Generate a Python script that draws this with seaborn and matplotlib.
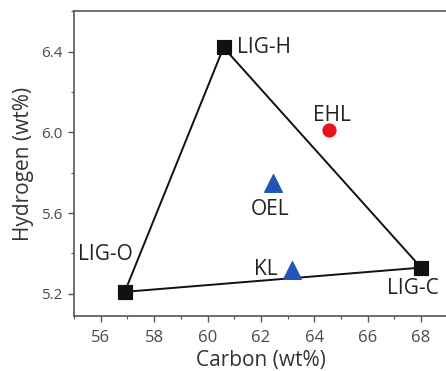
import matplotlib
matplotlib.use("Agg")
import matplotlib.pyplot as plt
import seaborn as sns
import pandas as pd
from matplotlib.ticker import MultipleLocator

# Data
lig_names = ["LIG-O", "LIG-H", "LIG-C"]
lig_carbon = [56.9, 60.6, 68.0]
lig_hydrogen = [5.21, 6.42, 5.33]

tri_names = ["OEL", "KL"]
tri_carbon = [62.45, 63.15]
tri_hydrogen = [5.75, 5.32]

ehl_names = ["EHL"]
ehl_carbon = [64.55]
ehl_hydrogen = [6.01]

sns.set_style("ticks")
plt.rcParams["font.family"] = ["Open Sans", "DejaVu Sans"]

fig = plt.figure(figsize=(4.46, 3.71), dpi=100)
ax = fig.add_axes([0.166, 0.148, 0.838, 0.822])

# Triangle outline (closed path)
outline = pd.DataFrame({
    "C": lig_carbon + [lig_carbon[0]],
    "H": lig_hydrogen + [lig_hydrogen[0]],
})
sns.lineplot(data=outline, x="C", y="H", sort=False, estimator=None,
             color="#111111", lw=1.4, ax=ax, zorder=2)

sns.scatterplot(x=lig_carbon, y=lig_hydrogen, marker="s", s=110,
                color="#111111", edgecolor="#111111", ax=ax, zorder=3)
sns.scatterplot(x=tri_carbon, y=tri_hydrogen, marker="^", s=160,
                color="#2255b8", edgecolor="#2255b8", ax=ax, zorder=3)
sns.scatterplot(x=ehl_carbon, y=ehl_hydrogen, marker="o", s=90,
                color="#e8141b", edgecolor="#e8141b", ax=ax, zorder=3)

lab_kw = dict(textcoords="offset points", fontsize=15, color="#222222")
offsets = {
    "LIG-O": ((-14, 27), "center", "center"),
    "LIG-H": ((10, 0), "left", "center"),
    "LIG-C": ((-6, -15), "center", "center"),
    "OEL": ((-2, -19), "center", "center"),
    "KL": ((-10, 0), "right", "center"),
    "EHL": ((2, 11), "center", "center"),
}
for names, xs, ys in [(lig_names, lig_carbon, lig_hydrogen),
                      (tri_names, tri_carbon, tri_hydrogen),
                      (ehl_names, ehl_carbon, ehl_hydrogen)]:
    for n, x, y in zip(names, xs, ys):
        off, ha, va = offsets[n]
        ax.annotate(n, (x, y), xytext=off, ha=ha, va=va, **lab_kw)

ax.set_xlim(55, 69)
ax.set_ylim(5.09, 6.6)
ax.xaxis.set_major_locator(MultipleLocator(2))
ax.xaxis.set_minor_locator(MultipleLocator(1))
ax.set_yticks([5.2, 5.6, 6.0, 6.4])
ax.yaxis.set_minor_locator(MultipleLocator(0.2))

ax.tick_params(which="major", direction="out", length=4, width=1,
               color="#555555", labelcolor="#4a4a4a")
ax.tick_params(axis="x", which="major", labelsize=12, pad=6)
ax.tick_params(axis="y", which="major", labelsize=11, pad=4)
ax.tick_params(which="minor", direction="out", length=2.5, width=0.8,
               color="#555555")
for sp in ax.spines.values():
    sp.set_visible(True)
    sp.set_color("#555555")
    sp.set_linewidth(1.2)

ax.set_xlabel("Carbon (wt%)", fontsize=15, color="#333333", labelpad=3)
ax.set_ylabel("Hydrogen (wt%)", fontsize=15, color="#333333", labelpad=5)

fig.savefig("out.png", dpi=100)
